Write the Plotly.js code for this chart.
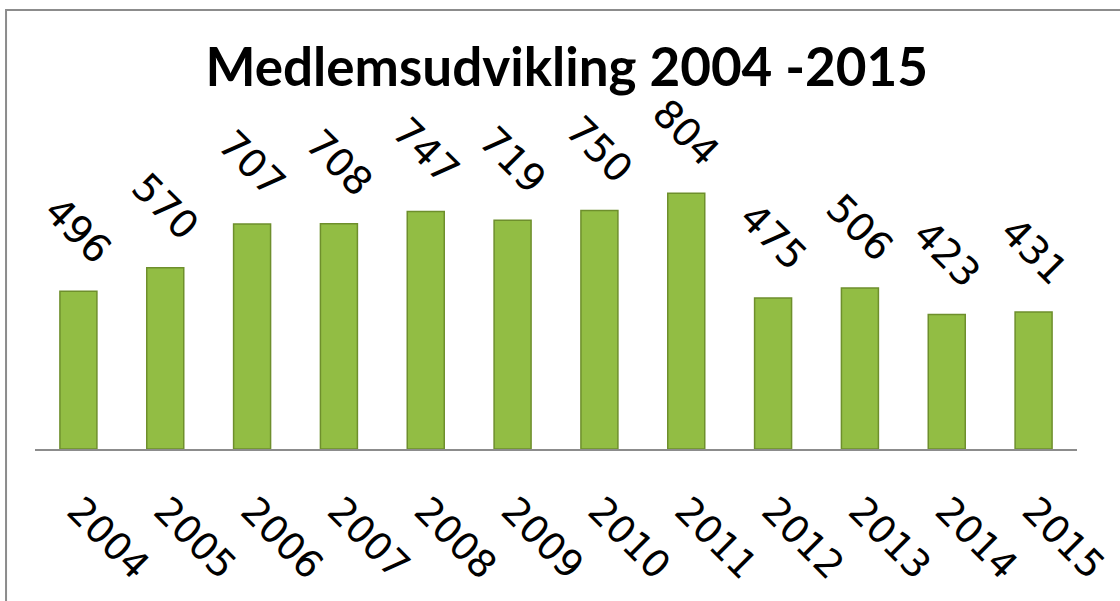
<!DOCTYPE html>
<html>
<head>
<meta charset="utf-8">
<script src="https://cdn.plot.ly/plotly-3.0.1.min.js"></script>
<style>html,body{margin:0;padding:0;background:#fff;}#chart{width:1120px;height:601px;}</style>
</head>
<body>
<div id="chart"></div>
<script>
const years = ['2004','2005','2006','2007','2008','2009','2010','2011','2012','2013','2014','2015'];
const members = [496, 570, 707, 708, 747, 719, 750, 804, 475, 506, 423, 431];
const titleText = 'Medlemsudvikling 2004 -2015';
const labelFont = 'DejaVu Sans';

const trace = {
  type: 'bar',
  x: years,
  y: members,
  marker: {color: '#92bd44', line: {color: '#6e8f2c', width: 1.5}},
  hoverinfo: 'x+y'
};

// category axis: annotation x given as category index
const annotations = years.map((yr, i) => ({
  x: i, y: members[i], xref: 'x', yref: 'y',
  text: String(members[i]),
  showarrow: false, textangle: 45,
  xanchor: 'center', yanchor: 'middle', yshift: 61,
  font: {family: labelFont, size: 39, color: '#000'}
}));

const layout = {
  width: 1120, height: 601,
  margin: {l: 35, r: 42.5, t: 60, b: 152},
  paper_bgcolor: '#fff', plot_bgcolor: '#fff',
  showlegend: false,
  bargap: 0.574,
  font: {family: labelFont},
  title: {text: titleText, x: 0.506, xanchor: 'center', y: 0.888, yanchor: 'middle',
          font: {family: 'Lato', size: 53, color: '#000', weight: 'bold'}},
  xaxis: {
    type: 'category', range: [-0.5, 11.5], tickangle: 45, showgrid: false, zeroline: false,
    showline: true, linecolor: '#8c8c8c', linewidth: 2,
    ticks: 'outside', ticklen: 22, tickcolor: 'rgba(0,0,0,0)',
    tickfont: {family: labelFont, size: 38, color: '#000'}
  },
  yaxis: {range: [0, 1223], visible: false, showgrid: false, zeroline: false},
  annotations: annotations,
  shapes: [{type: 'rect', xref: 'paper', yref: 'paper',
            x0: -0.0278, x1: 1.2, y0: -0.6, y1: 1.1285,
            line: {color: '#8c8c8c', width: 2}, fillcolor: 'rgba(0,0,0,0)', layer: 'below'}]
};

Plotly.newPlot('chart', [trace], layout, {displayModeBar: false, staticPlot: true});
</script>
</body>
</html>
